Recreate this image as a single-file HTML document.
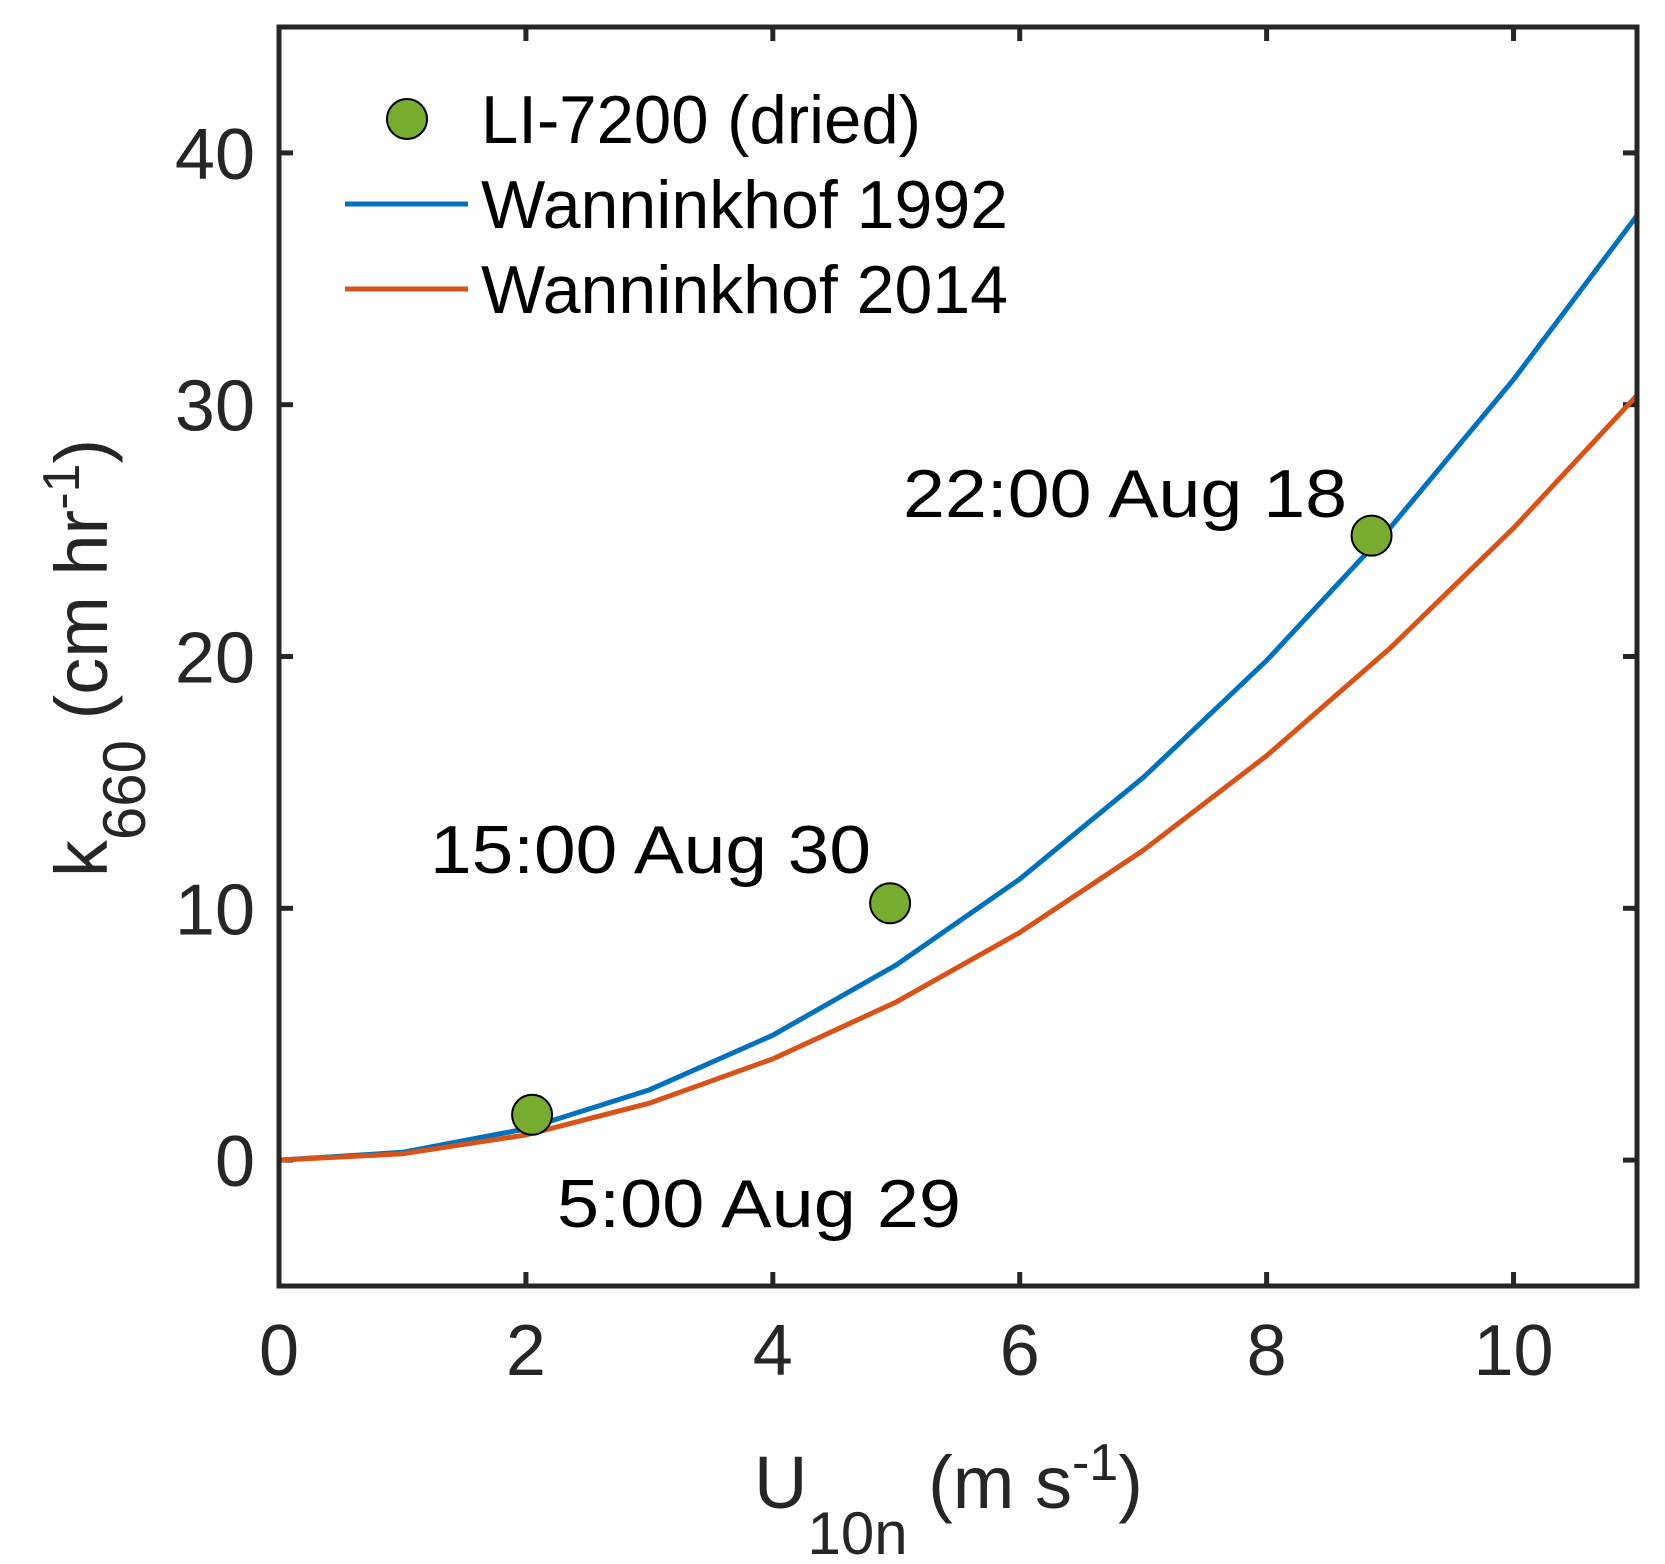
<!DOCTYPE html>
<html><head><meta charset="utf-8"><style>
html,body{margin:0;padding:0;background:#fff;}
svg{display:block;font-family:"Liberation Sans",Arial,sans-serif;}
</style></head><body>
<svg id="chart" width="1665" height="1564" viewBox="0 0 1665 1564" xmlns="http://www.w3.org/2000/svg">
<rect x="0" y="0" width="1665" height="1564" fill="#fff"/>
<g id="plot"></g>
</svg>
<script>
const windSpeeds = [0,1,2,3,4,5,6,7,8,9,10,11];
const w1992 = [0,0.31,1.24,2.79,4.96,7.75,11.16,15.19,19.84,25.11,31.0,37.51];
const w2014 = [0,0.25,1.0,2.26,4.02,6.28,9.04,12.3,16.06,20.33,25.1,30.37];
const obsU = [2.05,4.95,8.85];
const obsK = [1.8,10.2,24.8];
const obsLabels = ["5:00 Aug 29","15:00 Aug 30","22:00 Aug 18"];
const xTicks = [0,2,4,6,8,10];
const yTicks = [0,10,20,30,40];

const L=279,R=1637,T=27,B=1286;
const xMin=0,xMax=11,yMin=-5,yMax=45;
const sx=v=>L+(v-xMin)/(xMax-xMin)*(R-L);
const sy=v=>B-(v-yMin)/(yMax-yMin)*(B-T);
const NS="http://www.w3.org/2000/svg";
const g=document.getElementById('plot');
function mk(tag,attrs,parent){const e=document.createElementNS(NS,tag);for(const k in attrs)e.setAttribute(k,attrs[k]);(parent||g).appendChild(e);return e;}
const tc="#262626";

xTicks.forEach(v=>{
  const x=sx(v);
  const t1=mk('line',{x1:x,x2:x,y1:B,y2:B-14,stroke:tc,'stroke-width':5});
  
  
  const t2=mk('line',{x1:x,x2:x,y1:T,y2:T+14,stroke:tc,'stroke-width':5});
  
  
  const lb=mk('text',{x:x,y:1375,'text-anchor':'middle','font-size':72,fill:tc});
  lb.textContent=v;
  
  
});
yTicks.forEach(v=>{
  const y=sy(v);
  const t1=mk('line',{x1:L,x2:L+14,y1:y,y2:y,stroke:tc,'stroke-width':5});
  
  
  const t2=mk('line',{x1:R,x2:R-14,y1:y,y2:y,stroke:tc,'stroke-width':5});
  
  
  const lb=mk('text',{x:255,y:y+26,'text-anchor':'end','font-size':72,fill:tc});
  lb.textContent=v;
  
  
});

mk('clipPath',{id:'clip'}).appendChild((()=>{const r=document.createElementNS(NS,'rect');r.setAttribute('x',L);r.setAttribute('y',T);r.setAttribute('width',R-L);r.setAttribute('height',B-T);return r;})());
function line(vals,color,name){
  const p=mk('polyline',{points:windSpeeds.map((u,i)=>sx(u)+','+sy(vals[i])).join(' '),fill:'none',stroke:color,'stroke-width':5,'clip-path':'url(#clip)'});
  
  
}
line(w1992,'#0072BD','wanninkhof-1992-line');
line(w2014,'#D95319','wanninkhof-2014-line');

obsU.forEach((u,i)=>{
  const c=mk('circle',{cx:sx(u),cy:sy(obsK[i]),r:20,fill:'#77AC30',stroke:'#000','stroke-width':2});
  
  
});
const annPos=[[557,1227,404],[430,873,441],[903,517,444]];
obsLabels.forEach((s,i)=>{
  const t=mk('text',{x:annPos[i][0],y:annPos[i][1],'font-size':68,fill:'#000',textLength:annPos[i][2],lengthAdjust:'spacingAndGlyphs'});
  t.textContent=s;
  
  
});

const box=mk('rect',{x:L,y:T,width:R-L,height:B-T,fill:'none',stroke:tc,'stroke-width':5});



const lg=mk('g',{});


const lm=mk('circle',{cx:407,cy:119,r:20,fill:'#77AC30',stroke:'#000','stroke-width':2},lg);


const l1=mk('line',{x1:345,x2:468,y1:204,y2:204,stroke:'#0072BD','stroke-width':5},lg);


const l2=mk('line',{x1:345,x2:468,y1:289,y2:289,stroke:'#D95319','stroke-width':5},lg);


[["LI-7200 (dried)",143,440],["Wanninkhof 1992",228,527],["Wanninkhof 2014",313,527]].forEach(a=>{
  const t=mk('text',{x:481,y:a[1],'font-size':68,fill:'#000',textLength:a[2],lengthAdjust:'spacingAndGlyphs'},lg);
  t.textContent=a[0];
  
  
});
</script>
<svg style="position:absolute;left:0;top:0" width="1665" height="1564">
<text x="754" y="1508" font-family="Liberation Sans, Arial, sans-serif" font-size="74" fill="#262626">U<tspan font-size="60" dy="46">10n</tspan><tspan dy="-46"> (m s</tspan><tspan font-size="52" dy="-28">-1</tspan><tspan dy="28">)</tspan></text>
<text transform="translate(107,658) rotate(-90)" text-anchor="middle" font-family="Liberation Sans, Arial, sans-serif" font-size="74" fill="#262626">k<tspan font-size="60" dy="38">660</tspan><tspan dy="-38"> (cm hr</tspan><tspan font-size="52" dy="-28">-1</tspan><tspan dy="28">)</tspan></text>
</svg>
</body></html>
